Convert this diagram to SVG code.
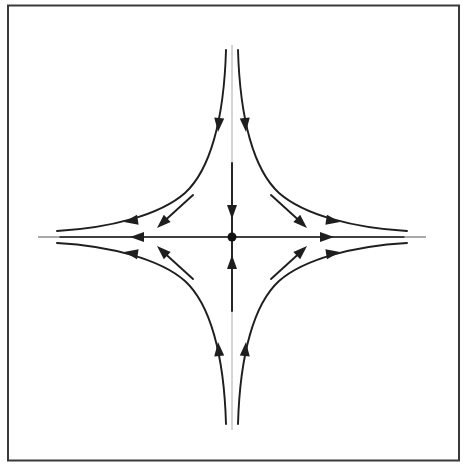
<svg xmlns="http://www.w3.org/2000/svg" xmlns:xlink="http://www.w3.org/1999/xlink" width="464" height="464" viewBox="0 0 464 464">
<style>
.traj{fill:none;stroke:#1e1e1e;stroke-width:1.9;stroke-linecap:round}
.axis{fill:none;stroke:#555;stroke-width:1}
.faint{fill:none;stroke:#aaa;stroke-width:1}
.head{fill:#1e1e1e}
</style>
<defs>
<path id="ah" class="head" d="M0,0 L-14,-5 L-14,5 Z"/>
<g id="quad">
<path class="traj" d="M226,50 C224,120 210,170 185,193 C160,215 110,228 57,231"/>
<use xlink:href="#ah" href="#ah" transform="translate(218,132) rotate(95)"/>
<use xlink:href="#ah" href="#ah" transform="translate(124,222) rotate(171)"/>
<path class="traj" d="M193,195 L160,225"/>
<use xlink:href="#ah" href="#ah" transform="translate(157,228) rotate(137)"/>
</g>
</defs>
<rect x="8" y="5.5" width="451" height="455" fill="#fff" stroke="#3a3a3a" stroke-width="2"/>
<g id="connectors">
<line class="faint" x1="232" y1="45" x2="232" y2="430"/>
<line class="axis" x1="38" y1="237" x2="426" y2="237"/>
<line class="traj" x1="232" y1="163" x2="232" y2="311"/>
<line class="traj" x1="60" y1="237" x2="404" y2="237" style="stroke-width:1.3"/>
<use xlink:href="#ah" href="#ah" transform="translate(232,219) rotate(90)"/>
<use xlink:href="#ah" href="#ah" transform="translate(232,255) rotate(-90)"/>
<use xlink:href="#ah" href="#ah" transform="translate(130,237) rotate(180)"/>
<use xlink:href="#ah" href="#ah" transform="translate(334,237)"/>
<use xlink:href="#quad" href="#quad"/>
<use xlink:href="#quad" href="#quad" transform="translate(464,0) scale(-1,1)"/>
<use xlink:href="#quad" href="#quad" transform="translate(0,474) scale(1,-1)"/>
<use xlink:href="#quad" href="#quad" transform="translate(464,474) scale(-1,-1)"/>
</g>
<g id="saddle">
<circle cx="232" cy="237" r="4.5" fill="#111"/>
</g>
</svg>
